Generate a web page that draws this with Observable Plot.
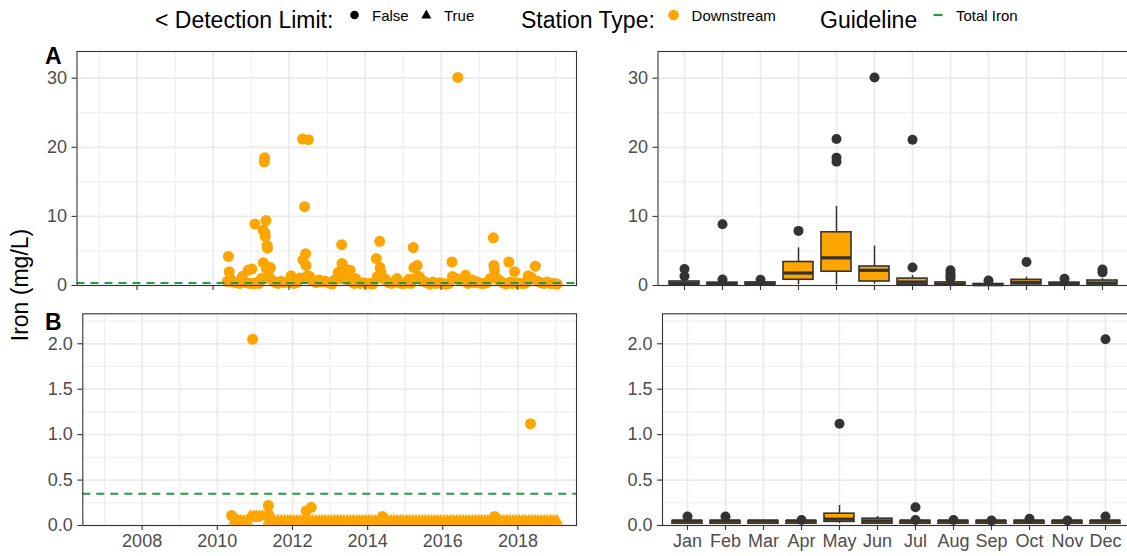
<!DOCTYPE html>
<html>
<head>
<meta charset="utf-8">
<script src="https://cdn.jsdelivr.net/npm/d3@7"></script>
<script src="https://cdn.jsdelivr.net/npm/@observablehq/plot@0.6"></script>
<style>
  html, body { margin: 0; padding: 0; background: #fff; overflow: hidden; }
  #chart { position: relative; width: 1127px; height: 556px; overflow: hidden; }
  #chart svg { position: absolute; left: 0; top: 0; }
</style>
</head>
<body>
<div id="chart"></div>
<script>
// ---- Total iron, downstream station (panel A): [sample date, mg/L]
const totalIron = [
  ["2010-05-18",0.6],["2010-05-28",4.2],["2010-06-05",2.0],["2010-06-20",0.9],["2010-07-15",0.5],["2010-08-15",0.4],
  ["2010-09-15",0.3],["2010-10-08",1.3],["2010-10-25",0.5],["2010-11-15",0.4],["2010-12-03",2.2],["2010-12-20",0.3],
  ["2011-01-08",2.4],["2011-01-25",0.3],["2011-02-06",8.9],["2011-02-20",0.4],["2011-03-15",0.3],["2011-04-10",1.0],
  ["2011-04-25",8.0],["2011-04-29",3.3],["2011-05-08",17.9],["2011-05-11",18.5],["2011-05-14",7.6],["2011-05-17",7.1],
  ["2011-05-24",9.4],["2011-05-28",2.4],["2011-06-04",5.8],["2011-06-07",5.4],["2011-06-20",1.2],["2011-06-28",2.4],
  ["2011-07-05",2.6],["2011-07-20",0.8],["2011-08-15",0.5],["2011-09-15",0.3],["2011-10-15",0.6],["2011-11-15",0.4],
  ["2011-12-15",0.5],
  ["2012-01-20",1.4],["2012-02-15",0.3],["2012-03-15",0.4],["2012-04-15",1.1],["2012-05-10",21.2],["2012-05-13",3.7],
  ["2012-05-25",1.0],["2012-05-29",11.4],["2012-06-08",4.6],["2012-06-12",2.9],["2012-06-25",1.4],["2012-07-05",21.1],
  ["2012-07-18",1.3],["2012-08-15",0.7],["2012-09-15",0.4],["2012-10-15",0.8],["2012-11-15",0.5],["2012-12-15",0.6],
  ["2013-01-15",0.4],["2013-02-15",0.2],["2013-03-15",0.8],["2013-04-18",1.9],["2013-05-08",1.0],["2013-05-20",5.9],
  ["2013-05-24",3.2],["2013-06-10",2.6],["2013-06-24",2.2],["2013-07-15",0.8],["2013-08-10",2.2],["2013-08-28",0.6],
  ["2013-09-15",0.3],["2013-10-01",1.0],["2013-10-20",0.5],["2013-11-15",0.3],["2013-12-15",0.4],
  ["2014-01-15",0.3],["2014-02-15",0.3],["2014-03-15",0.2],["2014-04-18",3.9],["2014-04-28",1.3],["2014-05-20",6.4],
  ["2014-05-24",2.6],["2014-06-02",1.9],["2014-06-20",1.0],["2014-07-15",0.9],["2014-08-15",0.4],["2014-09-15",0.3],
  ["2014-10-15",0.6],["2014-11-03",1.0],["2014-11-20",0.4],["2014-12-15",0.3],
  ["2015-01-15",0.3],["2015-02-25",0.9],["2015-03-15",0.3],["2015-04-08",5.5],["2015-04-14",2.6],["2015-04-24",1.0],
  ["2015-05-16",2.9],["2015-05-28",1.3],["2015-06-05",1.3],["2015-06-22",0.9],["2015-07-15",0.6],["2015-08-15",0.4],
  ["2015-09-15",0.2],["2015-10-15",0.5],["2015-11-15",0.3],["2015-12-15",0.4],
  ["2016-01-15",0.3],["2016-02-15",0.2],["2016-03-15",0.3],["2016-04-14",3.4],["2016-04-18",1.3],["2016-05-15",1.1],
  ["2016-06-09",30.1],["2016-06-25",0.8],["2016-07-15",0.7],["2016-08-22",1.5],["2016-09-15",0.3],["2016-10-06",0.7],
  ["2016-10-25",0.8],["2016-11-15",0.4],["2016-12-15",0.5],
  ["2017-01-15",0.3],["2017-02-15",0.3],["2017-03-15",0.4],["2017-04-15",1.0],["2017-05-16",6.9],["2017-05-22",2.9],
  ["2017-05-27",2.3],["2017-06-01",1.3],["2017-06-20",1.0],["2017-07-15",0.7],["2017-08-15",0.4],["2017-09-15",0.2],
  ["2017-10-12",3.4],["2017-10-28",0.5],["2017-11-15",0.3],["2017-12-06",2.0],["2017-12-20",0.4],
  ["2018-01-15",0.3],["2018-02-15",0.3],["2018-03-15",0.3],["2018-04-16",1.4],["2018-04-28",0.9],["2018-05-15",1.2],
  ["2018-06-24",2.8],["2018-07-15",0.6],["2018-08-15",0.4],["2018-09-15",0.3],["2018-10-15",0.5],["2018-11-15",0.3],
  ["2018-12-15",0.3],["2019-01-10",0.2],["2019-01-20",0.2]
];

// ---- Dissolved iron (panel B): detected results [date, mg/L]
const dissolvedDetected = [
  ["2010-05-20",0.11],["2010-07-15",0.06],["2010-12-10",2.05],["2010-12-22",0.1],["2011-01-10",0.1],["2011-02-10",0.1],
  ["2011-05-12",0.22],["2011-05-16",0.12],["2012-05-14",0.16],["2012-07-02",0.2],["2014-05-25",0.1],
  ["2017-05-20",0.1],["2018-05-03",1.12]
];
// results below the detection limit, plotted at the limit
const belowLimitHigh = ["2010-11","2010-12","2011-01","2011-02","2011-03","2011-04"]; // limit 0.1
const belowLimitLow = [                                                                // limit 0.05
  "2010-06","2010-07","2010-08","2010-09","2010-10",
  "2011-05","2011-06","2011-07","2011-08","2011-09","2011-10","2011-11","2011-12",
  "2012-01","2012-02","2012-03","2012-04","2012-05","2012-06","2012-07","2012-08","2012-09","2012-10","2012-11","2012-12",
  "2013-01","2013-02","2013-03","2013-04","2013-05","2013-06","2013-07","2013-08","2013-09","2013-10","2013-11","2013-12",
  "2014-01","2014-02","2014-03","2014-04","2014-05","2014-06","2014-07","2014-08","2014-09","2014-10","2014-11","2014-12",
  "2015-01","2015-02","2015-03","2015-04","2015-05","2015-06","2015-07","2015-08","2015-09","2015-10","2015-11","2015-12",
  "2016-01","2016-02","2016-03","2016-04","2016-05","2016-06","2016-07","2016-08","2016-09","2016-10","2016-11","2016-12",
  "2017-01","2017-02","2017-03","2017-04","2017-05","2017-06","2017-07","2017-08","2017-09","2017-10","2017-11","2017-12",
  "2018-01","2018-02","2018-03","2018-04","2018-05","2018-06","2018-07","2018-08","2018-09","2018-10","2018-11","2018-12",
  "2019-01"
];

// ---- Guideline
const totalIronGuideline = 0.35;

// ---- Monthly box statistics
const months = ["Jan","Feb","Mar","Apr","May","Jun","Jul","Aug","Sep","Oct","Nov","Dec"];
// total iron
const totLo  = [0.05,0.05,0.05,0.1, 0.1,  0.2, 0.05,0.05,0.05,0.05,0.05,0.05];
const totQ1  = [0.15,0.1, 0.1, 0.83,2.0,  0.58,0.1, 0.1, 0.05,0.15,0.1, 0.15];
const totMed = [0.3, 0.25,0.25,1.8, 4.0,  2.2, 0.5, 0.2, 0.12,0.45,0.25,0.35];
const totQ3  = [0.58,0.42,0.45,3.4, 7.7,  2.75,1.0, 0.45,0.22,0.82,0.42,0.72];
const totHi  = [0.95,0.6, 0.6, 5.45,11.45,5.7, 1.45,0.8, 0.35,1.2, 0.6, 1.0];
const totOutMonth = ["Jan","Jan","Feb","Feb","Mar","Apr","May","May","May","Jun","Jul","Jul","Aug","Aug","Aug","Aug","Sep","Oct","Nov","Dec","Dec"];
const totOutValue = [2.4, 1.35, 8.85, 0.87, 0.82, 7.9, 21.2, 18.5, 17.9, 30.1, 21.1, 2.6, 2.2, 1.7, 1.3, 1.0, 0.72, 3.4, 0.97, 2.3, 1.9];
// dissolved iron
const disLo  = [0.02,0.02,0.02,0.02,0.02,0.02,0.02,0.02,0.02,0.02,0.02,0.02];
const disQ1  = [0.02,0.02,0.02,0.02,0.04,0.02,0.02,0.02,0.02,0.02,0.02,0.02];
const disMed = [0.05,0.05,0.05,0.05,0.07,0.05,0.05,0.05,0.05,0.05,0.05,0.05];
const disQ3  = [0.05,0.05,0.05,0.05,0.13,0.075,0.05,0.05,0.05,0.05,0.05,0.05];
const disHi  = [0.05,0.05,0.05,0.05,0.22,0.1, 0.05,0.05,0.05,0.05,0.05,0.05];
const disOutMonth = ["Jan","Feb","Apr","May","Jul","Jul","Aug","Sep","Oct","Nov","Dec","Dec"];
const disOutValue = [0.1, 0.1, 0.06, 1.12, 0.2, 0.06, 0.06, 0.055, 0.075, 0.055, 2.05, 0.1];

// ---- Axis breaks
const yearTicks = [2008, 2010, 2012, 2014, 2016, 2018];
const yearMinor = [2007, 2009, 2011, 2013, 2015, 2017, 2019];
const totTicks = [0, 10, 20, 30], totMinor = [5, 15, 25];
const disTicks = [0, 0.5, 1, 1.5, 2], disMinor = [0.25, 0.75, 1.25, 1.75, 2.25];

// ---- Styling
const W = 1127, H = 556;
const FONT = "'Liberation Sans', Arial, Helvetica, sans-serif";
const ORANGE = "#FFA500", DARK = "#333333", GRID = "#EBEBEB", TEXT = "#4D4D4D", GREEN = "#1F9E45";

const chart = document.getElementById("chart");
const toDate = s => new Date(s.length === 7 ? s + "-15" : s);
const jan1 = y => new Date(Date.UTC(y, 0, 1));
function decimalYear(v) {
  const y = Math.floor(v), a = Date.UTC(y, 0, 1), b = Date.UTC(y + 1, 0, 1);
  return new Date(a + (v - y) * (b - a));
}
const timeDomain = [decimalYear(2006.42), decimalYear(2019.56)];

const totalRows = totalIron.map(([d, v]) => ({date: toDate(d), value: v}));
const detectedRows = dissolvedDetected.map(([d, v]) => ({date: toDate(d), value: v}));
const belowRows = [
  ...belowLimitLow.map(d => ({date: toDate(d), value: 0.05})),
  ...belowLimitHigh.map(d => ({date: toDate(d), value: 0.1}))
];
const boxTable = (lo, q1, med, q3, hi) => months.map((m, i) => ({month: m, lo: lo[i], q1: q1[i], med: med[i], q3: q3[i], hi: hi[i]}));
const totBoxes = boxTable(totLo, totQ1, totMed, totQ3, totHi);
const disBoxes = boxTable(disLo, disQ1, disMed, disQ3, disHi);
const totOut = totOutMonth.map((m, i) => ({month: m, value: totOutValue[i]}));
const disOut = disOutMonth.map((m, i) => ({month: m, value: disOutValue[i]}));

// panel frames in page pixels
const frames = {
  A:  {left: 76.5,  right: 576,  top: 51,    bottom: 285},
  B:  {left: 82.3,  right: 576,  top: 313.3, bottom: 525},
  Am: {left: 657.5, right: 1129, top: 51,    bottom: 285},
  Bm: {left: 662,   right: 1129, top: 313.3, bottom: 525}
};
const yDomains = {top: [0, 33.86], bottom: [0, 2.33]};

function draw(box, options) {
  const svg = Plot.plot({
    width: W, height: H,
    marginLeft: box.left, marginRight: W - box.right,
    marginTop: box.top, marginBottom: H - box.bottom,
    style: `background: transparent; font-family: ${FONT}; overflow: hidden;`,
    ...options
  });
  chart.appendChild(svg);
}

const axisStyle = {tickSize: 5, fontSize: 18, fill: TEXT, stroke: DARK, strokeWidth: 1.1, label: null};

function gridY(major, minor) {
  return [
    Plot.ruleY(minor, {stroke: GRID, strokeWidth: 0.9}),
    Plot.ruleY(major, {stroke: GRID, strokeWidth: 1.7})
  ];
}

function timePanel(box, yDomain, yMajor, yMinor, yFormat, showYears, dotMarks) {
  draw(box, {
    x: {type: "utc", domain: timeDomain},
    y: {domain: yDomain},
    marks: [
      Plot.ruleX(yearMinor.map(jan1), {stroke: GRID, strokeWidth: 0.9}),
      ...gridY(yMajor, yMinor),
      Plot.ruleX(yearTicks.map(jan1), {stroke: GRID, strokeWidth: 1.7}),
      ...dotMarks,
      Plot.ruleY([totalIronGuideline], {stroke: GREEN, strokeWidth: 2, strokeDasharray: "8,6"}),
      Plot.frame({stroke: DARK, strokeWidth: 1.1}),
      Plot.axisX({...axisStyle, ticks: yearTicks.map(jan1), tickPadding: 4,
                  tickFormat: showYears ? d3.utcFormat("%Y") : () => ""}),
      Plot.axisY({...axisStyle, ticks: yMajor, tickPadding: 5, tickFormat: yFormat})
    ]
  });
}

function monthPanel(box, yDomain, yMajor, yMinor, yFormat, showMonths, boxes, outliers) {
  draw(box, {
    x: {type: "band", domain: months, paddingInner: 0.22, paddingOuter: 0.21},
    y: {domain: yDomain},
    marks: [
      ...gridY(yMajor, yMinor),
      Plot.ruleX(months, {stroke: GRID, strokeWidth: 1.7}),
      Plot.ruleX(boxes, {x: "month", y1: "lo", y2: "hi", stroke: DARK, strokeWidth: 1.5}),
      Plot.barY(boxes, {x: "month", y1: "q1", y2: "q3", fill: ORANGE, stroke: DARK, strokeWidth: 1.6}),
      Plot.tickY(boxes, {x: "month", y: "med", stroke: DARK, strokeWidth: 3.2}),
      Plot.dot(outliers, {x: "month", y: "value", r: 5, fill: DARK}),
      Plot.frame({stroke: DARK, strokeWidth: 1.1}),
      Plot.axisX({...axisStyle, tickPadding: 4, tickFormat: showMonths ? (d => d) : () => ""}),
      Plot.axisY({...axisStyle, ticks: yMajor, tickPadding: 5, tickFormat: yFormat})
    ]
  });
}

const fmtInt = d3.format("d"), fmt1 = d3.format(".1f");

timePanel(frames.A, yDomains.top, totTicks, totMinor, fmtInt, false, [
  Plot.dot(totalRows, {x: "date", y: "value", r: 5.5, fill: ORANGE, symbol: "circle"})
]);
timePanel(frames.B, yDomains.bottom, disTicks, disMinor, fmt1, true, [
  Plot.dot(belowRows, {x: "date", y: "value", r: 4.6, fill: ORANGE, symbol: "triangle"}),
  Plot.dot(detectedRows, {x: "date", y: "value", r: 5.5, fill: ORANGE, symbol: "circle"})
]);
monthPanel(frames.Am, yDomains.top, totTicks, totMinor, fmtInt, false, totBoxes, totOut);
monthPanel(frames.Bm, yDomains.bottom, disTicks, disMinor, fmt1, true, disBoxes, disOut);

// ---- Legend, panel tags and shared y title
const ns = "http://www.w3.org/2000/svg";
const ann = document.createElementNS(ns, "svg");
ann.setAttribute("width", W);
ann.setAttribute("height", H);
ann.style.fontFamily = FONT;
ann.innerHTML = `
  <g font-size="23" fill="#000">
    <text x="155" y="28">&lt; Detection Limit:</text>
    <text x="521" y="28">Station Type:</text>
    <text x="820" y="28">Guideline</text>
  </g>
  <g font-size="15" fill="#000">
    <circle cx="354.5" cy="15" r="4.3" fill="#000"></circle>
    <text x="372" y="20.5">False</text>
    <path d="M426.3,9.5 L431.3,18.5 L421.3,18.5 Z" fill="#000"></path>
    <text x="444" y="20.5">True</text>
    <circle cx="673.6" cy="15" r="5.3" fill="${ORANGE}"></circle>
    <text x="691.6" y="20.5">Downstream</text>
    <line x1="933.5" x2="942.5" y1="15" y2="15" stroke="${GREEN}" stroke-width="2.2"></line>
    <text x="956" y="20.5">Total Iron</text>
  </g>
  <g font-size="23" font-weight="bold" fill="#000">
    <text x="45" y="64">A</text>
    <text x="45" y="330">B</text>
  </g>
  <text transform="translate(28,285) rotate(-90)" text-anchor="middle" font-size="23" fill="#000">Iron (mg/L)</text>
`;
chart.appendChild(ann);
</script>
</body>
</html>
